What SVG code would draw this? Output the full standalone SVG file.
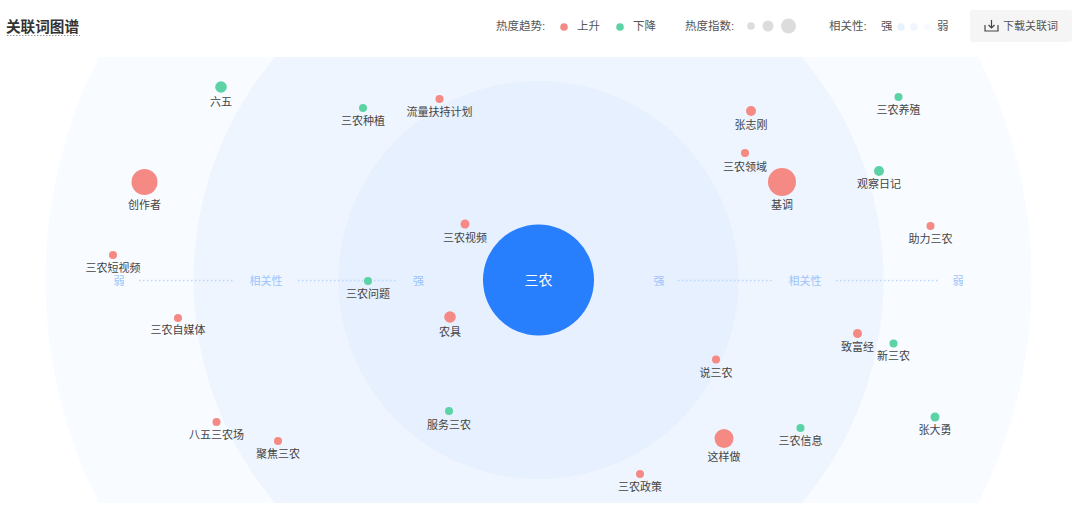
<svg xmlns="http://www.w3.org/2000/svg" width="1080" height="510" viewBox="0 0 1080 510">
<style>
text{font-family:"Liberation Sans","Noto Sans CJK SC",sans-serif}
.l{font-size:11px;fill:#444;text-anchor:middle}
.h{font-size:11.500px;fill:#555}
.a{font-size:11px;fill:#9cc4fb;text-anchor:middle}
.u{fill:#f58a85}
.d{fill:#5cd3a4}
.g{fill:#dcdcdc}
.dot{stroke:#bcd6fb;stroke-width:1.500;stroke-dasharray:1.500 2.500;fill:none}
</style>
<defs><clipPath id="c"><rect x="0" y="57" width="1080" height="446"/></clipPath></defs>
<rect width="1080" height="510" fill="#fff"/>
<g id="rings" clip-path="url(#c)">
<circle cx="538.500" cy="280" r="493" fill="#f8fbff"/>
<circle cx="538.500" cy="280" r="345" fill="#eef5ff"/>
<ellipse cx="538.500" cy="280" rx="200" ry="199" fill="#e6f0fe"/>
</g>
<g id="header">
<text x="6" y="32" font-size="14.600" font-weight="700" fill="#333">关联词图谱</text>
<path d="M7 35.500H80" stroke="#999" stroke-dasharray="1.500 1.500" fill="none"/>
<text class="h" x="496" y="30">热度趋势:</text>
<circle class="u" cx="564" cy="27" r="3.800"/>
<text class="h" x="577" y="30">上升</text>
<circle class="d" cx="620" cy="27" r="3.800"/>
<text class="h" x="633" y="30">下降</text>
<text class="h" x="685" y="30">热度指数:</text>
<circle class="g" cx="751" cy="26" r="3.800"/>
<circle class="g" cx="768" cy="26" r="5.500"/>
<circle class="g" cx="788.500" cy="26" r="7.500"/>
<text class="h" x="829" y="30">相关性:</text>
<text class="h" x="881" y="30">强</text>
<circle cx="901" cy="27" r="3.800" fill="#e8f1fe"/>
<circle cx="914" cy="27" r="3.800" fill="#f0f5fe"/>
<circle cx="927" cy="27" r="3.800" fill="#f8faff"/>
<text class="h" x="937" y="30">弱</text>
<rect x="970" y="10" width="102" height="32" rx="3" fill="#f5f5f5"/>
<path d="M985 25v6h13v-6M991.500 20v8M988.500 25l3 3 3-3" fill="none" stroke="#444" stroke-width="1.200"/>
<text x="1003" y="30" font-size="11" fill="#555">下载关联词</text>
</g>
<g id="connectors">
<path class="dot" d="M139 280.500H233M298 280.500H398M678 280.500H773M836 280.500H939"/>
</g>
<g id="axis">
<text class="a" x="119" y="285">弱</text>
<text class="a" x="266" y="285">相关性</text>
<text class="a" x="418.500" y="285">强</text>
<text class="a" x="659" y="285">强</text>
<text class="a" x="805" y="285">相关性</text>
<text class="a" x="958" y="285">弱</text>
</g>
<g id="center"><circle cx="538.500" cy="280" r="55.500" fill="#277ffd"/><text x="538.500" y="285" font-size="14" fill="#fff" text-anchor="middle">三农</text></g>
<g id="n1"><circle class="d" cx="221" cy="87" r="5.800"/><text class="l" x="221" y="106">六五</text></g>
<g id="n2"><circle class="d" cx="363" cy="108" r="4"/><text class="l" x="363" y="125">三农种植</text></g>
<g id="n3"><circle class="u" cx="439.500" cy="99" r="4"/><text class="l" x="439.500" y="116">流量扶持计划</text></g>
<g id="n4"><circle class="u" cx="751" cy="111" r="5"/><text class="l" x="751" y="129">张志刚</text></g>
<g id="n5"><circle class="d" cx="898.500" cy="97" r="4"/><text class="l" x="898.500" y="114">三农养殖</text></g>
<g id="n6"><circle class="u" cx="745" cy="153" r="4"/><text class="l" x="745" y="171">三农领域</text></g>
<g id="n7"><circle class="u" cx="144.500" cy="182" r="13"/><text class="l" x="144.500" y="209">创作者</text></g>
<g id="n8"><circle class="u" cx="782" cy="182" r="14"/><text class="l" x="782" y="209">基调</text></g>
<g id="n9"><circle class="d" cx="879" cy="171" r="5"/><text class="l" x="879" y="188">观察日记</text></g>
<g id="n10"><circle class="u" cx="465" cy="224" r="4.500"/><text class="l" x="465" y="242">三农视频</text></g>
<g id="n11"><circle class="u" cx="930.500" cy="226" r="4"/><text class="l" x="930.500" y="243">助力三农</text></g>
<g id="n12"><circle class="u" cx="113" cy="255" r="4"/><text class="l" x="113" y="272">三农短视频</text></g>
<g id="n13"><circle class="d" cx="368" cy="281" r="4"/><text class="l" x="368" y="298">三农问题</text></g>
<g id="n14"><circle class="u" cx="450" cy="317" r="5.800"/><text class="l" x="450" y="336">农具</text></g>
<g id="n15"><circle class="u" cx="178" cy="318" r="4"/><text class="l" x="178" y="334">三农自媒体</text></g>
<g id="n16"><circle class="u" cx="857.500" cy="333.500" r="4.500"/><text class="l" x="857.500" y="351">致富经</text></g>
<g id="n17"><circle class="d" cx="893.500" cy="343.500" r="4"/><text class="l" x="893.500" y="360">新三农</text></g>
<g id="n18"><circle class="u" cx="716" cy="359.500" r="4"/><text class="l" x="716" y="377">说三农</text></g>
<g id="n19"><circle class="d" cx="449" cy="411" r="4"/><text class="l" x="449" y="429">服务三农</text></g>
<g id="n20"><circle class="d" cx="935" cy="417" r="4.500"/><text class="l" x="935" y="434">张大勇</text></g>
<g id="n21"><circle class="u" cx="216.500" cy="422" r="4"/><text class="l" x="216.500" y="439">八五三农场</text></g>
<g id="n22"><circle class="d" cx="800.500" cy="428" r="4"/><text class="l" x="800.500" y="445">三农信息</text></g>
<g id="n23"><circle class="u" cx="278" cy="441" r="4"/><text class="l" x="278" y="458">聚焦三农</text></g>
<g id="n24"><circle class="u" cx="724" cy="438.500" r="9.500"/><text class="l" x="724" y="461">这样做</text></g>
<g id="n25"><circle class="u" cx="640" cy="474" r="4"/><text class="l" x="640" y="491">三农政策</text></g>
</svg>
